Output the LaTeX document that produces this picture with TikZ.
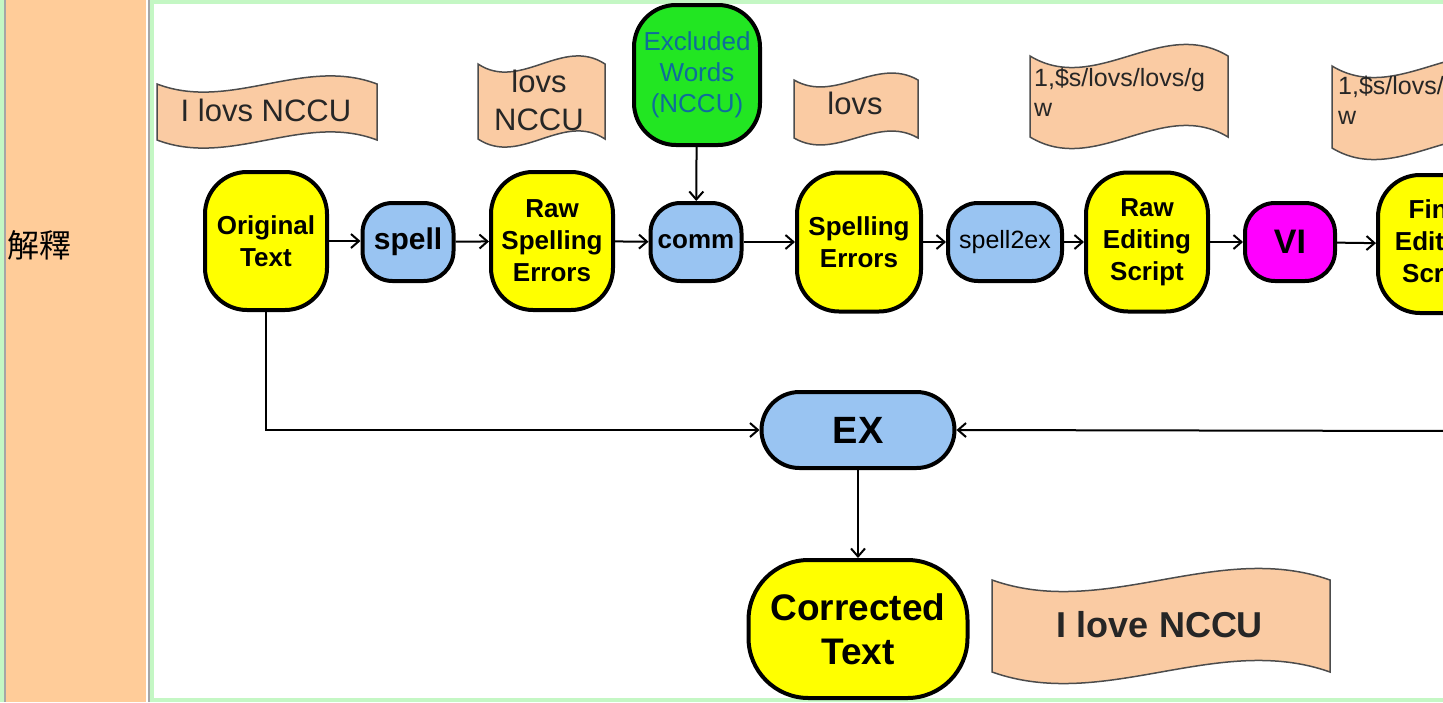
\documentclass[tikz,border=0pt]{standalone}
\usepackage{fontspec}
\setmainfont{Liberation Sans}
\newfontfamily\cjk{Noto Sans CJK TC}
\usetikzlibrary{arrows.meta}
\definecolor{peach}{HTML}{FACBA3}
\definecolor{cellor}{HTML}{FFCC99}
\definecolor{bordg}{HTML}{C4F7C4}
\definecolor{procblue}{HTML}{99C4F2}
\definecolor{exgreen}{HTML}{22E622}
\definecolor{exteal}{HTML}{0E6D9A}
\definecolor{vimag}{HTML}{FF00FF}
\definecolor{datayel}{HTML}{FFFF00}
\newcommand\tapedoc[5]{%
  \filldraw[docshape] (#1,#2) .. controls ({#1+(#3-#1)/3},{#2+#5}) and ({#1+2*(#3-#1)/3},{#2-#5}) .. (#3,#2)
    -- (#3,#4) .. controls ({#1+2*(#3-#1)/3},{#4-#5}) and ({#1+(#3-#1)/3},{#4+#5}) .. (#1,#4) -- cycle;}
\tikzset{
  docshape/.style={fill=peach, draw=black!70, line width=1.5pt},
  doctext/.style={inner sep=0pt, align=center, text=black!85, font=\fontsize{31}{38}\selectfont},
  box/.style={draw=black, line width=4pt, rounded corners=#1, inner sep=0pt, align=center},
  data/.style={box=42pt, fill=datayel, minimum width=122pt, minimum height=138pt,
     font=\fontsize{26}{32}\selectfont\bfseries},
  proc/.style={box=30pt, fill=procblue, minimum width=91pt, minimum height=78pt},
  conn/.style={line width=2pt, -{Straight Barb[length=8pt,width=14pt]}},
}
\begin{document}
\begin{tikzpicture}[x=1pt,y=-1pt]
\useasboundingbox (0,0) rectangle (1443,702);
\clip (0,0) rectangle (1443,702);
% page / table background
\fill[white] (0,0) rectangle (1443,702);
\fill[bordg] (0,0) rectangle (4,702);
\fill[black!35] (4,0) rectangle (5.5,702);
\fill[cellor] (5.5,0) rectangle (146,702);
\fill[black!35] (147.5,0) rectangle (150,702);
\fill[bordg] (150,0) rectangle (154,702);
\fill[bordg] (150,0) rectangle (1443,3.5);
\fill[bordg] (150,698) rectangle (1443,702);
\node[inner sep=0pt, font=\cjk\fontsize{32}{36}\selectfont] (lbl) at (40,245) {解釋};

% documents
\tapedoc{157}{84}{377}{140}{28}
\node[doctext] (d1) at (266,110) {I lovs NCCU};
\tapedoc{478}{64}{605}{139}{28}
\node[doctext] (d2) at (539,100) {lovs\\NCCU};
\tapedoc{794}{80}{918}{138}{24}
\node[doctext] (d3) at (855,103) {lovs};
\tapedoc{1030}{56}{1228}{137}{40}
\node[doctext, align=left, anchor=north west, font=\fontsize{25}{30}\selectfont] (d4) at (1034,68) {1,\$s/lovs/lovs/g\\w};
\tapedoc{1332}{66}{1530}{148}{40}
\node[doctext, align=left, anchor=north west, font=\fontsize{25}{30}\selectfont] (d5) at (1338,76) {1,\$s/lovs/lovs/g\\w};
\tapedoc{992}{580}{1330}{672}{40}
\node[doctext, font=\fontsize{36}{40}\selectfont\bfseries] (d6) at (1160,625) {I love NCCU};

% process / data nodes
\node[data] (orig) at (266,241) {Original\\Text};
\node[proc, font=\fontsize{30}{34}\selectfont\bfseries] (spell) at (408,242) {spell};
\node[data] (raw) at (552,241) {Raw\\Spelling\\Errors};
\node[proc, font=\fontsize{26}{30}\selectfont\bfseries] (comm) at (696,242) {comm};
\node[box=42pt, fill=exgreen, minimum width=126pt, minimum height=140pt, text=exteal,
      font=\fontsize{26}{31}\selectfont] (excl) at (697,75) {Excluded\\Words\\(NCCU)};
\node[data, minimum width=124pt, minimum height=139pt] (serr) at (859,242) {Spelling\\Errors};
\node[proc, minimum width=114pt, font=\fontsize{25}{30}\selectfont] (s2e) at (1005,242) {spell2ex};
\node[data, minimum height=139pt] (rawed) at (1147,242) {Raw\\Editing\\Script};
\node[proc, fill=vimag, minimum width=90pt, font=\fontsize{34}{38}\selectfont\bfseries] (vi) at (1290,242) {VI};
\node[data] (final) at (1439,244) {Final\\Editing\\Script};
\node[box=38pt, fill=procblue, minimum width=193pt, minimum height=76pt,
      font=\fontsize{38}{42}\selectfont\bfseries] (ex) at (858,430) {EX};
\node[box=60pt, fill=datayel, minimum width=219pt, minimum height=138pt,
      font=\fontsize{37}{44}\selectfont\bfseries] (corr) at (858,629) {Corrected\\Text};
\coordinate (rin) at (1450,431);

% connectors
\draw[conn] (orig.east |- 0,241) -- (spell.west |- 0,241);
\draw[conn] (spell) -- (raw);
\draw[conn] (raw) -- (comm);
\draw[conn] (comm) -- (serr);
\draw[conn] (serr) -- (s2e);
\draw[conn] (s2e) -- (rawed);
\draw[conn] (rawed) -- (vi);
\draw[conn] (vi) -- (final);
\draw[conn] (excl) -- (comm);
\draw[conn] (orig.south) |- (ex.west);
\draw[conn] (rin) -- (ex.east);
\draw[conn] (ex) -- (corr);
\end{tikzpicture}
\end{document}
